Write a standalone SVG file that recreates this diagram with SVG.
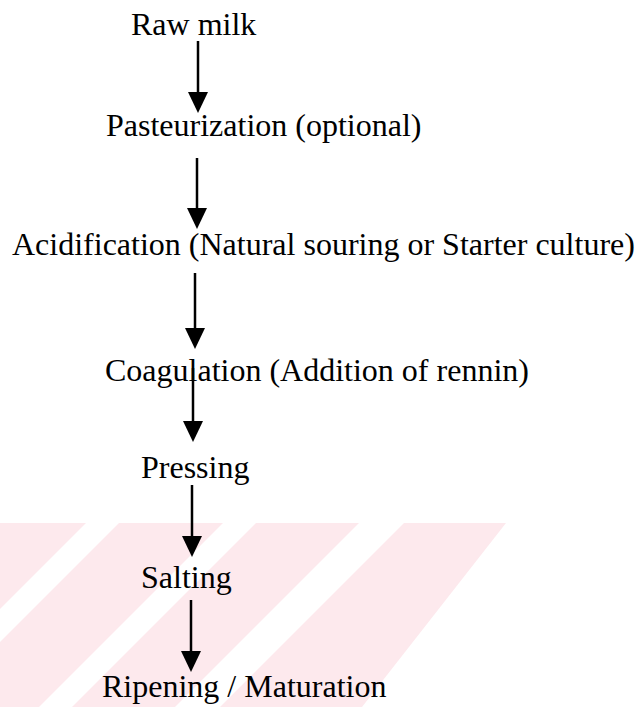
<svg xmlns="http://www.w3.org/2000/svg" width="642" height="707" viewBox="0 0 642 707">
  <style>
    text { font-family: 'Liberation Serif', 'Times New Roman', Tinos, 'DejaVu Serif', serif; font-size: 32px; fill: #000; }
    .conn { stroke: #000; stroke-width: 2.5; fill: none; marker-end: url(#arrow); }
    .wm { fill: #fde9ed; }
  </style>
  <defs>
    <marker id="arrow" viewBox="0 0 21 20" refX="0" refY="10" markerWidth="21" markerHeight="20" markerUnits="userSpaceOnUse" orient="auto">
      <path d="M0,0 L21,10 L0,20 z" fill="#000"/>
    </marker>
    <clipPath id="wmclip"><rect x="0" y="523" width="642" height="184"/></clipPath>
  </defs>
  <rect width="642" height="707" fill="#fff"/>
  <g id="watermark" clip-path="url(#wmclip)">
    <polygon class="wm" points="-60,523 86,523 -98,707 -244,707"/>
    <polygon class="wm" points="119,523 223,523 39,707 -65,707"/>
    <polygon class="wm" points="256,523 359,523 175,707 72,707"/>
    <polygon class="wm" points="404,523 506,523 362,707 220,707"/>
  </g>
  <g id="connectors">
    <line class="conn" x1="198" y1="41" x2="198" y2="92"/>
    <line class="conn" x1="197" y1="158" x2="197" y2="208"/>
    <line class="conn" x1="195" y1="273" x2="195" y2="328"/>
    <line class="conn" x1="193" y1="368" x2="193" y2="421"/>
    <line class="conn" x1="192" y1="485" x2="192" y2="536"/>
    <line class="conn" x1="191" y1="600" x2="191" y2="651"/>
  </g>
  <g id="n1"><text x="131" y="35">Raw milk</text></g>
  <g id="n2"><text x="106" y="136">Pasteurization (optional)</text></g>
  <g id="n3"><text x="12" y="255">Acidification (Natural souring or Starter culture)</text></g>
  <g id="n4"><text x="105" y="381">Coagulation (Addition of rennin)</text></g>
  <g id="n5"><text x="141" y="478">Pressing</text></g>
  <g id="n6"><text x="141" y="588">Salting</text></g>
  <g id="n7"><text x="102" y="697">Ripening / Maturation</text></g>
</svg>
